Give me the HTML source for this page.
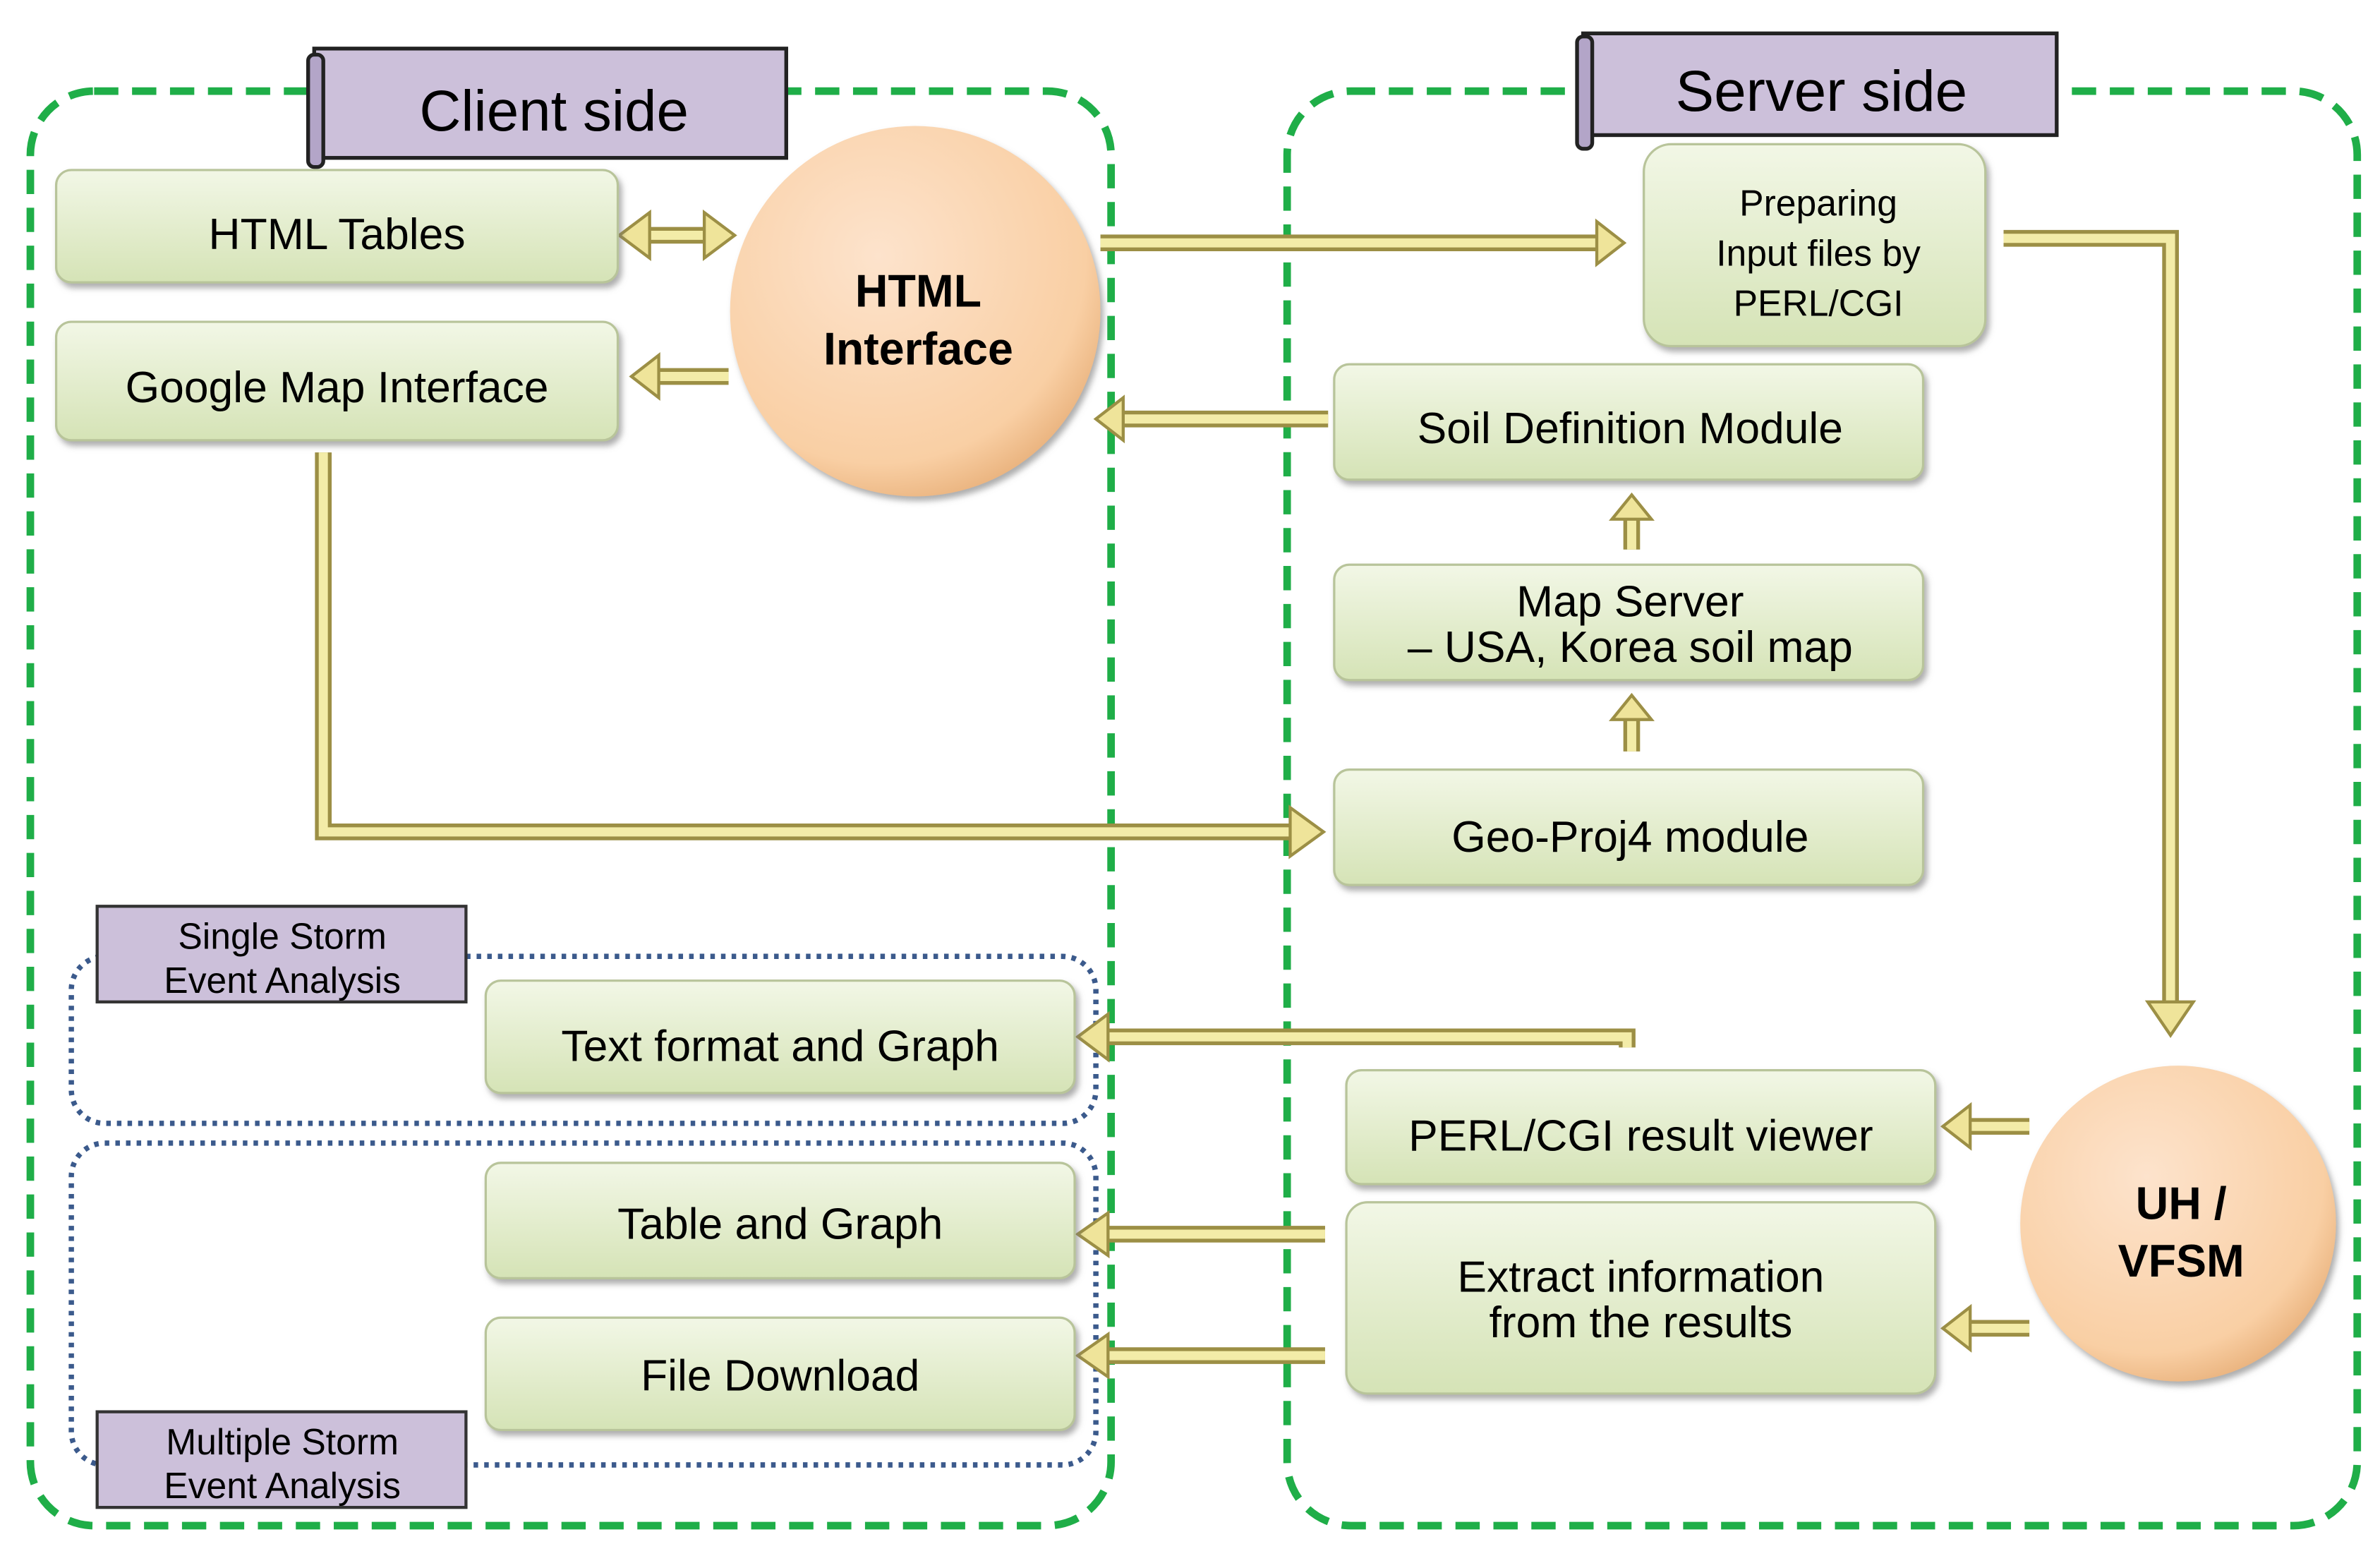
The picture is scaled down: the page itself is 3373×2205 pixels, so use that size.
<!DOCTYPE html>
<html><head><meta charset="utf-8"><style>
html,body{margin:0;padding:0;background:#fff;}
svg{display:block;}
text{font-family:"Liberation Sans",sans-serif;fill:#000;}
</style></head><body>
<svg width="3373" height="2205" viewBox="0 0 1568 1025" preserveAspectRatio="none" xmlns="http://www.w3.org/2000/svg">
<defs>
<linearGradient id="g" x1="0" y1="0" x2="0" y2="1"><stop offset="0" stop-color="#f2f7e6"/><stop offset="1" stop-color="#d5e3b6"/></linearGradient>
<radialGradient id="c" cx="0.4" cy="0.35" r="0.7"><stop offset="0" stop-color="#fde3cc"/><stop offset="0.8" stop-color="#f9cfa4"/><stop offset="1" stop-color="#e8b07a"/></radialGradient>
<filter id="s" x="-10%" y="-10%" width="130%" height="140%"><feDropShadow dx="2" dy="3" stdDeviation="2" flood-color="#777" flood-opacity="0.6"/></filter>
</defs>
<rect x="20" y="60" width="712" height="945" rx="42" fill="none" stroke="#1fae48" stroke-width="5" stroke-dasharray="16,9"/>
<rect x="848" y="60" width="705" height="945" rx="42" fill="none" stroke="#1fae48" stroke-width="5" stroke-dasharray="16,9"/>
<rect x="47" y="630" width="675" height="110" rx="22" fill="none" stroke="#3b5a8c" stroke-width="3.5" stroke-dasharray="3,4"/>
<rect x="47" y="753" width="675" height="212" rx="22" fill="none" stroke="#3b5a8c" stroke-width="3.5" stroke-dasharray="3,4"/>
<g stroke="#222" stroke-width="2.5">
<rect x="207" y="32" width="311" height="72" fill="#ccc0da"/>
<rect x="203" y="36" width="10" height="74" rx="4" fill="#b3a5c8"/>
<rect x="1043" y="22" width="312" height="67" fill="#ccc0da"/>
<rect x="1039" y="24" width="10" height="74" rx="4" fill="#b3a5c8"/>
</g>
<text x="365" y="86" font-size="38" text-anchor="middle">Client side</text>
<text x="1200" y="73" font-size="38" text-anchor="middle">Server side</text>
<rect x="64" y="597" width="243" height="63" fill="#ccc0da" stroke="#333" stroke-width="2"/>
<text x="186" y="625" font-size="24" text-anchor="middle" fill="#222">Single Storm</text>
<text x="186" y="654" font-size="24" text-anchor="middle" fill="#222">Event Analysis</text>
<rect x="64" y="930" width="243" height="63" fill="#ccc0da" stroke="#333" stroke-width="2"/>
<text x="186" y="958" font-size="24" text-anchor="middle" fill="#222">Multiple Storm</text>
<text x="186" y="987" font-size="24" text-anchor="middle" fill="#222">Event Analysis</text>
<g fill="none" stroke-linejoin="miter">
<g stroke="#9c8f45" stroke-width="11">
<path d="M725 160 H1055"/><path d="M735 276 H875"/><path d="M1075 338 V362"/><path d="M1075 470 V495"/>
<path d="M213 298 V548 H855"/><path d="M1320 157 H1430 V665"/><path d="M1072 690 V683 H727"/>
<path d="M1295 742 H1337"/><path d="M1295 875 H1337"/><path d="M727 813 H873"/><path d="M727 893 H873"/>
<path d="M425 155 H470"/><path d="M430 248 H480"/>
</g>
<g stroke="#f3eca8" stroke-width="6">
<path d="M725 160 H1055"/><path d="M735 276 H875"/><path d="M1075 338 V362"/><path d="M1075 470 V495"/>
<path d="M213 298 V548 H855"/><path d="M1320 157 H1430 V665"/><path d="M1072 690 V683 H727"/>
<path d="M1295 742 H1337"/><path d="M1295 875 H1337"/><path d="M727 813 H873"/><path d="M727 893 H873"/>
<path d="M425 155 H470"/><path d="M430 248 H480"/>
</g>
</g>
<g fill="#efe49a" stroke="#9c8f45" stroke-width="2">
<polygon points="1070,160 1052,146 1052,174"/>
<polygon points="722,276 740,262 740,290"/>
<polygon points="1075,326 1062,342 1088,342"/>
<polygon points="1075,458 1062,474 1088,474"/>
<polygon points="872,548 850,532 850,564"/>
<polygon points="1430,682 1415,660 1445,660"/>
<polygon points="710,683 730,668 730,698"/>
<polygon points="1280,742 1298,728 1298,756"/>
<polygon points="1280,875 1298,861 1298,889"/>
<polygon points="710,813 730,799 730,827"/>
<polygon points="710,893 730,879 730,907"/>
<polygon points="408,155 428,140 428,170"/>
<polygon points="484,155 464,140 464,170"/>
<polygon points="416,248 434,234 434,262"/>
</g>
<g fill="url(#g)" stroke="#b8c49a" stroke-width="1.5" filter="url(#s)">
<rect x="37" y="112" width="370" height="74" rx="10"/>
<rect x="37" y="212" width="370" height="78" rx="10"/>
<rect x="1083" y="95" width="225" height="133" rx="18"/>
<rect x="879" y="240" width="388" height="76" rx="10"/>
<rect x="879" y="372" width="388" height="76" rx="10"/>
<rect x="879" y="507" width="388" height="76" rx="10"/>
<rect x="320" y="646" width="388" height="74" rx="10"/>
<rect x="887" y="705" width="388" height="75" rx="10"/>
<rect x="887" y="792" width="388" height="126" rx="14"/>
<rect x="320" y="766" width="388" height="76" rx="10"/>
<rect x="320" y="868" width="388" height="74" rx="10"/>
</g>
<g font-size="29" text-anchor="middle">
<text x="222" y="164">HTML Tables</text>
<text x="222" y="265">Google Map Interface</text>
<text x="1074" y="292">Soil Definition Module</text>
<text x="1074" y="406">Map Server</text>
<text x="1074" y="436">– USA, Korea soil map</text>
<text x="1074" y="561">Geo-Proj4 module</text>
<text x="514" y="699">Text format and Graph</text>
<text x="1081" y="758">PERL/CGI result viewer</text>
<text x="1081" y="851">Extract information</text>
<text x="1081" y="881">from the results</text>
<text x="514" y="816">Table and Graph</text>
<text x="514" y="916">File Download</text>
</g>
<g font-size="24" text-anchor="middle" fill="#222">
<text x="1198" y="142">Preparing</text>
<text x="1198" y="175">Input  files by</text>
<text x="1198" y="208">PERL/CGI</text>
</g>
<circle cx="603" cy="205" r="122" fill="url(#c)" filter="url(#s)"/>
<circle cx="1435" cy="806" r="104" fill="url(#c)" filter="url(#s)"/>
<g font-size="30" font-weight="bold" text-anchor="middle">
<text x="605" y="202">HTML</text>
<text x="605" y="240">Interface</text>
<text x="1437" y="803">UH /</text>
<text x="1437" y="841">VFSM</text>
</g>
</svg>
</body></html>
